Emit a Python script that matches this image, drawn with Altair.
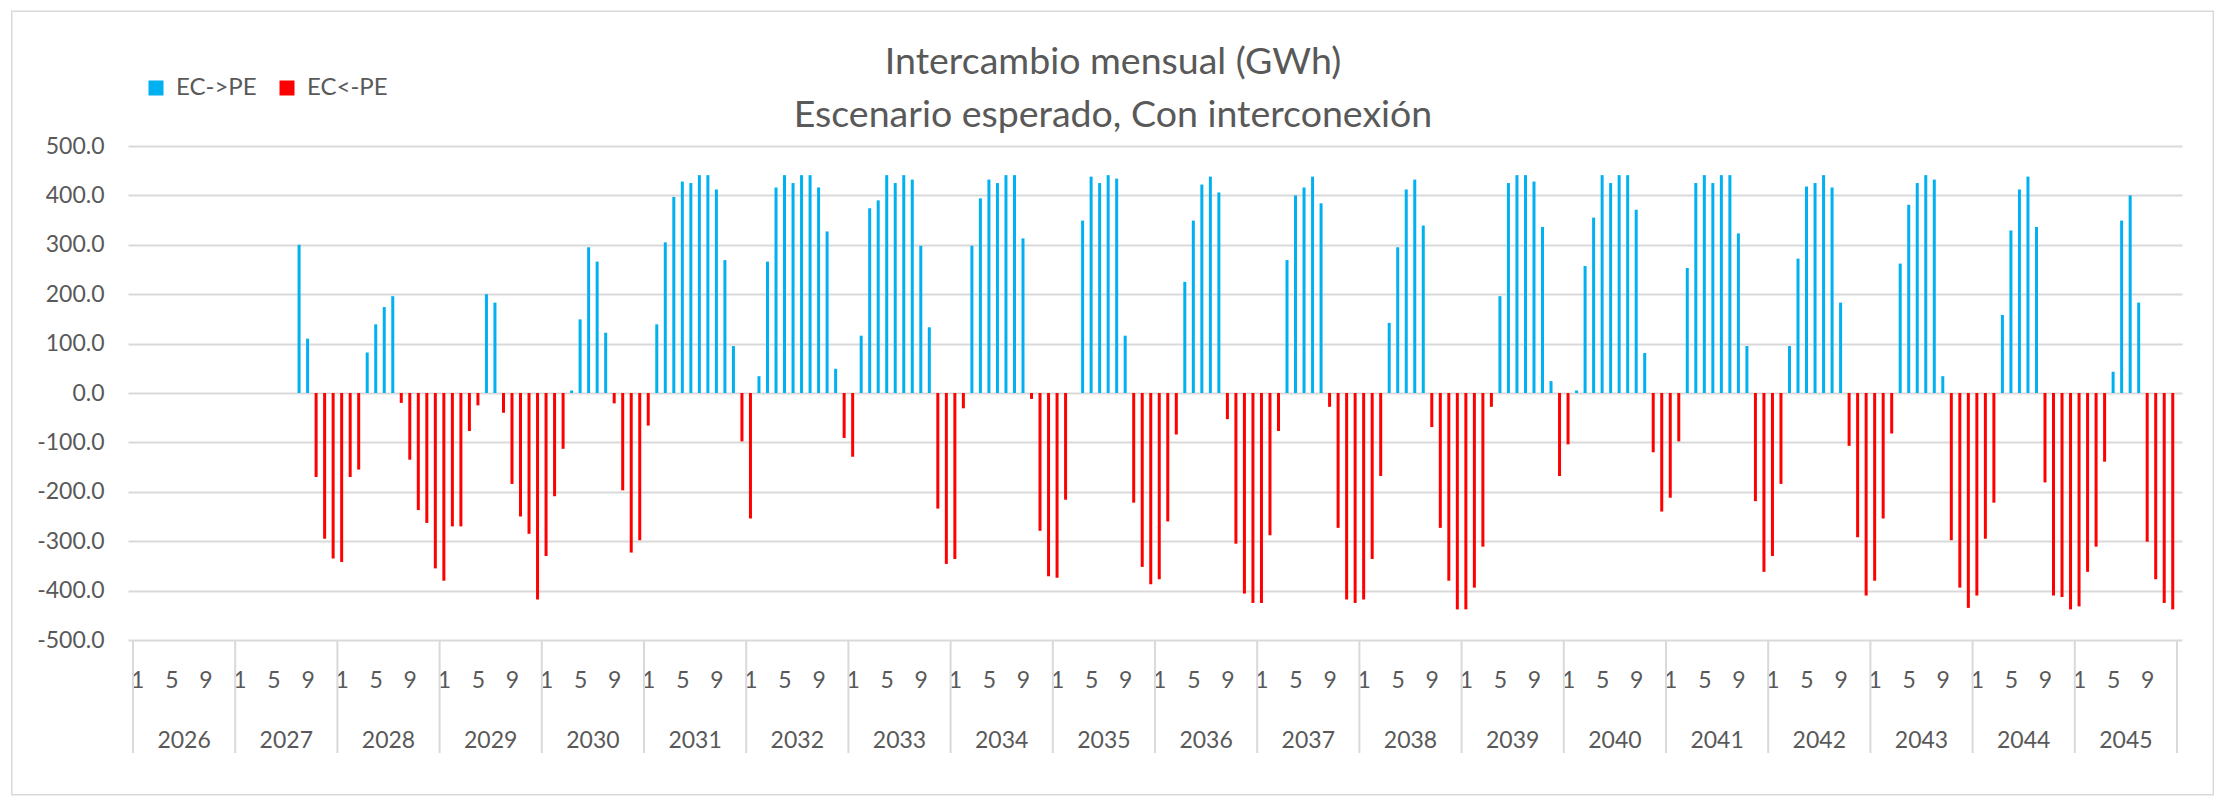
import altair as alt
import pandas as pd

years = list(range(2026, 2046))
series_names = ["EC->PE", "EC<-PE"]
series_colors = ["#00B0F0", "#FF0000"]
title_lines = ["Intercambio mensual (GWh)", "Escenario esperado, Con interconexión"]
month_ticks = [1, 5, 9]
y_ticks = [-500, -400, -300, -200, -100, 0, 100, 200, 300, 400, 500]

# signed monthly exchange, GWh (positive: EC->PE, negative: EC<-PE)
m2026 = [0, 0, 0, 0, 0, 0, 0, 0, 0, 0, 0, 0]
m2027 = [0, 0, 0, 0, 0, 0, 0, 300, 110, -170, -295, -335]
m2028 = [-342, -170, -155, 82, 139, 174, 196, -20, -135, -237, -263, -355]
m2029 = [-380, -270, -270, -77, -25, 200, 183, -40, -184, -250, -285, -418]
m2030 = [-330, -209, -113, 5, 149, 295, 266, 122, -21, -197, -323, -298]
m2031 = [-66, 139, 305, 397, 428, 425, 441, 441, 412, 269, 95, -98]
m2032 = [-254, 34, 266, 416, 441, 425, 441, 441, 416, 327, 49, -91]
m2033 = [-129, 116, 374, 390, 441, 425, 441, 432, 298, 133, -234, -346]
m2034 = [-336, -31, 298, 394, 432, 425, 441, 441, 313, -12, -279, -371]
m2035 = [-374, -216, 0, 349, 438, 425, 441, 434, 116, -222, -352, -387]
m2036 = [-377, -260, -84, 225, 349, 422, 438, 406, -53, -305, -406, -425]
m2037 = [-425, -288, -77, 269, 400, 416, 438, 384, -28, -273, -418, -425]
m2038 = [-418, -336, -168, 142, 295, 412, 432, 339, -69, -273, -380, -438]
m2039 = [-438, -394, -311, -28, 196, 425, 441, 441, 428, 336, 24, -168]
m2040 = [-104, 5, 257, 355, 441, 425, 441, 441, 371, 81, -120, -240]
m2041 = [-212, -98, 253, 425, 441, 425, 441, 441, 323, 95, -219, -362]
m2042 = [-330, -184, 95, 272, 418, 425, 441, 416, 183, -107, -292, -410]
m2043 = [-380, -254, -82, 262, 381, 425, 441, 432, 34, -298, -394, -435]
m2044 = [-410, -295, -222, 158, 329, 412, 438, 336, -181, -410, -413, -438]
m2045 = [-432, -362, -311, -139, 43, 349, 400, 183, -301, -377, -425, -438]

monthly = [m2026, m2027, m2028, m2029, m2030, m2031, m2032, m2033, m2034, m2035,
           m2036, m2037, m2038, m2039, m2040, m2041, m2042, m2043, m2044, m2045]

rows = []
for yi, vals in enumerate(monthly):
    for mi, v in enumerate(vals):
        if v != 0:
            rows.append({"t": yi * 12 + mi + 0.5, "v": v,
                         "s": series_names[0] if v > 0 else series_names[1]})
bars_df = pd.DataFrame(rows)

bounds_df = pd.DataFrame({"b": [i * 12 for i in range(len(years) + 1)]})
year_df = pd.DataFrame({"c": [i * 12 + 6 for i in range(len(years))],
                        "year": [str(y) for y in years]})
one = pd.DataFrame({"k": [0]})

W = 2054
H = 494
FONT = "Lato"
TXT = "#595959"
GRID = "#D9D9D9"
N = len(years) * 12

xscale = alt.Scale(domain=[0, N], nice=False, zero=False)
yscale = alt.Scale(domain=[-500, 500], nice=False)

month_vals = [yi * 12 + (m - 1) + 0.5 for yi in range(len(years)) for m in month_ticks]

bars = alt.Chart(bars_df).mark_bar(size=3).encode(
    x=alt.X("t:Q", scale=xscale,
            axis=alt.Axis(values=month_vals,
                          labelExpr="toString(floor(datum.value) % 12 + 1)",
                          orient="bottom",
                          grid=False, ticks=False, domain=False, title=None,
                          labelFontSize=23, labelFont=FONT, labelColor=TXT,
                          labelBaseline="middle", labelPadding=40,
                          labelOverlap=False, labelFlush=False, labelBound=False)),
    y=alt.Y("v:Q", scale=yscale, stack=None,
            axis=alt.Axis(values=y_ticks, title=None, grid=True, gridColor=GRID,
                          gridWidth=2, ticks=False, domain=False,
                          labelExpr="(datum.value < 0 ? '-' : '') + format(abs(datum.value), '.1f')",
                          labelFontSize=23, labelFont=FONT, labelColor=TXT,
                          labelPadding=24)),
    color=alt.Color("s:N", scale=alt.Scale(domain=series_names, range=series_colors),
                    legend=alt.Legend(orient="none", legendX=16, legendY=-70,
                                      direction="horizontal", title=None,
                                      symbolType="square", symbolSize=225,
                                      symbolStrokeWidth=0,
                                      labelFontSize=24, labelFont=FONT,
                                      labelColor=TXT, columnPadding=18,
                                      labelOffset=8)),
)

seps = alt.Chart(bounds_df).mark_rule(color=GRID, strokeWidth=2).encode(
    x=alt.X("b:Q", scale=xscale, axis=None),
    y=alt.value(H),
    y2=alt.value(H + 113),
)

year_text = alt.Chart(year_df).mark_text(
    font=FONT, fontSize=23, color=TXT, baseline="middle", align="center"
).encode(
    x=alt.X("c:Q", scale=xscale, axis=None),
    y=alt.value(H + 101),
    text="year:N",
)

border = alt.Chart(one).mark_rect(fillOpacity=0, stroke=GRID, strokeWidth=1.5).encode(
    x=alt.value(-116.25), x2=alt.value(2085.25),
    y=alt.value(-134.75), y2=alt.value(648.75),
)

t1 = alt.Chart(one).mark_text(
    font=FONT, fontSize=37.5, color=TXT, align="center", baseline="alphabetic"
).encode(x=alt.value(985), y=alt.value(-72.5), text=alt.value(title_lines[0]))

t2 = alt.Chart(one).mark_text(
    font=FONT, fontSize=37.5, color=TXT, align="center", baseline="alphabetic"
).encode(x=alt.value(985), y=alt.value(-19.5), text=alt.value(title_lines[1]))

chart = alt.layer(border, bars, seps, year_text, t1, t2).resolve_axis(
    x="independent"
).properties(
    width=W, height=H,
    padding={"left": 3, "top": 2, "right": 0, "bottom": 0},
    background="white",
).configure_view(stroke=None)

chart.save("out.html", embed_options={"renderer": "svg", "actions": False})
